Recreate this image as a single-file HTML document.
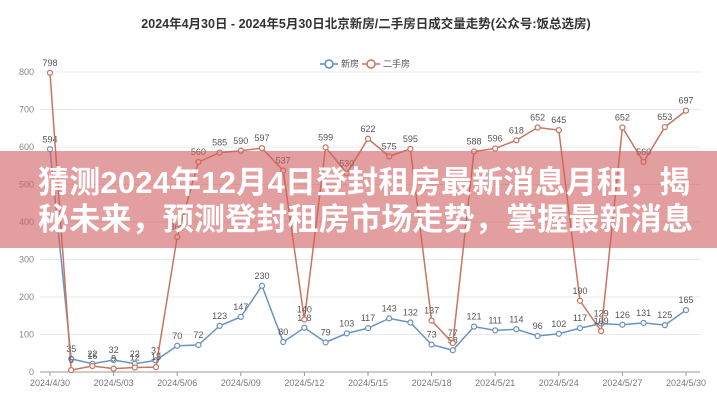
<!DOCTYPE html>
<html><head><meta charset="utf-8"><style>
body{margin:0;background:#fff;width:717px;height:400px;overflow:hidden;position:relative;font-family:"Liberation Sans","Noto Sans CJK SC",sans-serif}
.ban{position:absolute;left:0;top:151px;width:717px;height:97px;background:rgba(208,95,95,0.6)}
.bt{position:absolute;left:38px;font-size:31px;line-height:36px;font-weight:bold;color:#fff;white-space:nowrap;letter-spacing:0.2px}
</style></head><body>
<svg width="717" height="400" style="position:absolute;left:0;top:0" font-family="Liberation Sans, Noto Sans CJK SC, sans-serif">
<text x="366" y="28" font-size="12.5" font-weight="bold" fill="#333" text-anchor="middle">2024年4月30日 - 2024年5月30日北京新房/二手房日成交量走势(公众号:饭总选房)</text>
<g font-size="9" fill="#555">
<line x1="320" y1="64" x2="338" y2="64" stroke="#5b8bc0" stroke-width="1.5"/><circle cx="329" cy="64" r="4" fill="#fff" stroke="#5b8bc0" stroke-width="1.5"/><text x="341" y="67">新房</text>
<line x1="362" y1="64" x2="380" y2="64" stroke="#c8755e" stroke-width="1.5"/><circle cx="371" cy="64" r="4" fill="#fff" stroke="#c8755e" stroke-width="1.5"/><text x="383" y="67">二手房</text>
</g>
<g id="grid"></g>
<g id="chart"></g>
</svg>
<div class="ban"></div>
<div class="bt" style="top:165px">猜测2024年12月4日登封租房最新消息月租，揭</div>
<div class="bt" style="top:202px">秘未来，预测登封租房市场走势，掌握最新消息</div>
<script>
var ns="http://www.w3.org/2000/svg";
function el(p,t,a,txt){var e=document.createElementNS(ns,t);for(var k in a)e.setAttribute(k,a[k]);if(txt!=null)e.textContent=txt;p.appendChild(e);return e;}
var g=document.getElementById('grid'),c=document.getElementById('chart');
function Y(v){return 372-v*0.375;}function X(i){return 50+21.2*i;}
for(var v=0;v<=800;v+=100){el(g,'line',{x1:40,x2:700,y1:Y(v),y2:Y(v),stroke:v?'#e8e8e8':'#999','stroke-width':1});el(g,'text',{x:34,y:Y(v)+3,'font-size':9,fill:'#888','text-anchor':'end'},v);}
var xl=['2024/4/30','2024/5/03','2024/5/06','2024/5/09','2024/5/12','2024/5/15','2024/5/18','2024/5/21','2024/5/24','2024/5/27','2024/5/30'];
for(var i=0;i<11;i++){el(g,'line',{x1:X(i*3),x2:X(i*3),y1:372,y2:376,stroke:'#999'});el(g,'text',{x:X(i*3),y:386,'font-size':9,fill:'#777','text-anchor':'middle'},xl[i]);}
var b=[594,35,22,32,22,31,70,72,123,147,230,80,118,79,103,117,143,132,73,58,121,111,114,96,102,117,129,126,131,125,165];
var o=[798,5,16,9,12,13,360,560,585,590,597,537,140,599,530,622,575,595,137,77,588,596,618,652,645,190,109,652,560,653,697];
function ser(d,col){var p=d.map(function(v,i){return X(i)+','+Y(v)}).join(' ');el(c,'polyline',{points:p,fill:'none',stroke:col,'stroke-width':1.5});
d.forEach(function(v,i){el(c,'circle',{cx:X(i),cy:Y(v),r:2.5,fill:'#fff',stroke:col,'stroke-width':1.2});el(c,'text',{x:X(i),y:Y(v)-7,'font-size':9,fill:'#555','text-anchor':'middle'},v);});}
ser(b,'#6a93c2');ser(o,'#c8755e');
</script>
</body></html>
